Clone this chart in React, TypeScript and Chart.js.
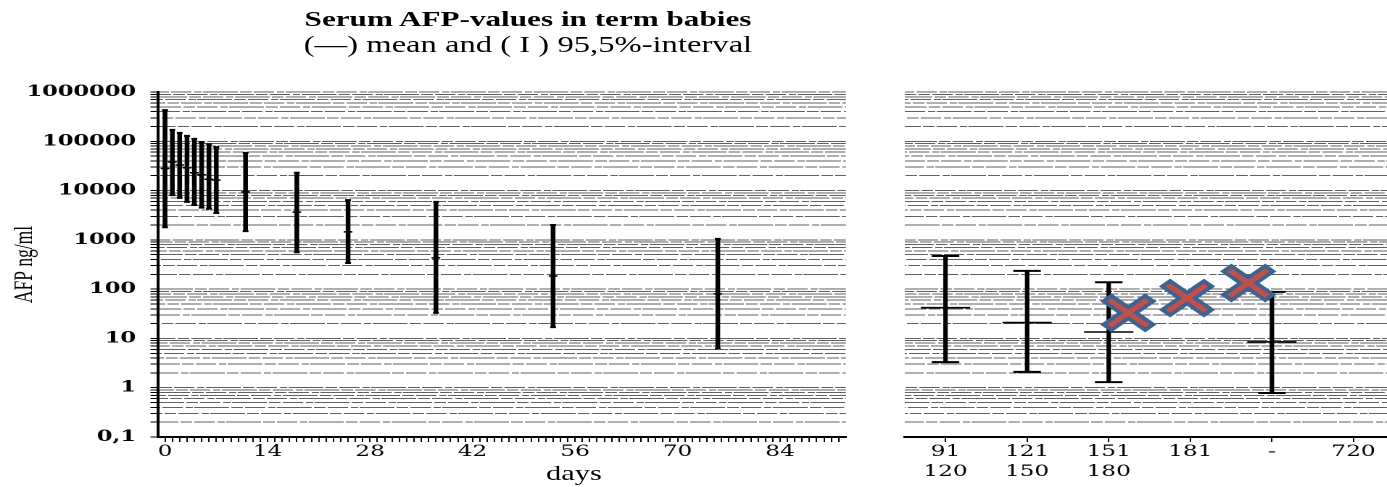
import React, { useEffect, useRef } from 'react';
import { Chart, registerables } from 'chart.js';

Chart.register(...registerables);

// The figure is laid out narrow and widened horizontally as a whole.
const STRETCH = 1.45;
const FIG_W = 1387;
const FIG_H = 487;
const INNER_W = FIG_W / STRETCH;

const LEFT_W = 607;
const RIGHT_W = 350;

// Neonatal period: day after birth, 95.5% interval and mean (ng/ml)
const neonatalDays = [0, 1, 2, 3, 4, 5, 6, 7, 11, 18, 25, 37, 53, 75.5];
const neonatalLow = [1800, 8100, 7100, 5900, 5100, 4500, 4300, 3500, 1500, 560, 340, 33, 17, 6.2];
const neonatalHigh = [430000, 170000, 148000, 129000, 112000, 96000, 87000, 76000, 58000, 23000, 6400, 5900, 2000, 1050];
const neonatalMean = [28000, 38000, 33000, 29000, 23000, 21000, 17000, 16300, 9400, 3650, 1450, 430, 185, 80];
const dayLabelDays = [0, 14, 28, 42, 56, 70, 84];

// Infancy: age groups (days), 95.5% interval and mean (ng/ml)
const infantTickLabels: (string | string[])[] = [['91', '120'], ['121', '150'], ['151', '180'], '181', '-', '720'];
const infantGroupPos = [0, 1, 2, 4];
const infantLow = [3.3, 2.1, 1.3, 0.78];
const infantHigh = [470, 235, 138, 88];
const infantMean = [42, 21, 13.5, 8.5];

// Crossed-out markers
const crossPos = [2.24, 2.96, 3.71];
const crossValue = [33, 66, 133];

// Log axis decades
const decadeValues = [0.1, 1, 10, 100, 1000, 10000, 100000, 1000000];
const decadeLabels = ['0,1', '1', '10', '100', '1000', '10000', '100000', '1000000'];

// Log-paper rulings: 1..9 in each decade
const logGridValues: number[] = [];
for (let e = -1; e <= 5; e++) {
  for (let m = 1; m <= 9; m++) logGridValues.push(+(m * Math.pow(10, e)).toPrecision(6));
}
logGridValues.push(1e6);

const dayTicks: number[] = [];
for (let d = 0; d <= 92; d++) dayTicks.push(d);

const RIGHT_X_MIN = -0.4963;
const RIGHT_X_MAX = 5.4185;

const GRID_COLOR = 'rgba(35,35,35,0.72)';
const SERIF_TICK = 'DejaVu Serif';
const SERIF_TEXT = '"Liberation Serif", "Times New Roman", serif';

const decadeLabel = (v: number) => {
  const i = decadeValues.findIndex((d) => Math.abs(d - v) / d < 1e-6);
  return i >= 0 ? decadeLabels[i] : '';
};

function logAxis(showLabels: boolean, width: number) {
  return {
    type: 'logarithmic',
    min: 0.1,
    max: 1e6,
    afterBuildTicks: (s: any) => {
      s.ticks = logGridValues.map((value) => ({ value }));
    },
    afterFit: (s: any) => {
      s.width = width;
    },
    grid: {
      display: true,
      color: GRID_COLOR,
      lineWidth: 1,
      drawTicks: showLabels,
      tickLength: 5,
      tickColor: '#000',
      tickWidth: 1,
    },
    border: {
      display: showLabels,
      color: '#000',
      width: 2,
      dash: [24, 1.5, 8, 1.5, 14, 2, 5, 1],
      dashOffset: (ctx: any) => (ctx.index * 11) % 37,
    },
    ticks: {
      display: showLabels,
      autoSkip: false,
      padding: 10,
      color: '#000',
      font: { family: SERIF_TICK, size: 15.5, weight: 'bold' },
      callback: (v: any) => decadeLabel(Number(v)),
    },
    title: showLabels
      ? {
          display: true,
          text: 'AFP ng/ml',
          color: '#000',
          font: { family: SERIF_TEXT, size: 17.5 },
          padding: { top: 7, bottom: 0 },
        }
      : { display: false },
  };
}

function lineMarks(xs: number[], ys: number[], radius: number, width: number, order: number) {
  return {
    type: 'scatter',
    data: xs.map((x, i) => ({ x, y: ys[i] })),
    showLine: false,
    pointStyle: 'line',
    pointRadius: radius,
    pointBorderWidth: width,
    pointBorderColor: '#000',
    pointBackgroundColor: '#000',
    order,
  };
}

const baseOptions = {
  responsive: false,
  maintainAspectRatio: false,
  animation: false,
  devicePixelRatio: 2,
  events: [],
  plugins: {
    legend: { display: false },
    title: { display: false },
    tooltip: { enabled: false },
  },
};

function neonatalConfig(): any {
  return {
    type: 'bar',
    data: {
      datasets: [
        {
          type: 'bar',
          data: neonatalDays.map((d, i) => ({ x: d, y: [neonatalLow[i], neonatalHigh[i]] })),
          backgroundColor: '#000',
          borderWidth: 0,
          barThickness: 2.6,
          grouped: false,
          order: 5,
        },
        lineMarks(neonatalDays, neonatalMean, 3, 1.5, 3),
        lineMarks(neonatalDays, neonatalLow, 2, 2, 4),
        lineMarks(neonatalDays, neonatalHigh, 2, 2, 4),
      ],
    },
    options: {
      ...baseOptions,
      layout: { autoPadding: false, padding: { top: 92, right: 23.6, bottom: 0, left: 0 } },
      scales: {
        x: {
          type: 'linear',
          min: -1,
          max: 93,
          offset: false,
          afterBuildTicks: (s: any) => {
            s.ticks = dayTicks.map((value) => ({ value }));
          },
          afterFit: (s: any) => {
            s.height = 50;
          },
          grid: {
            offset: false,
            drawOnChartArea: false,
            drawTicks: true,
            tickLength: 5,
            tickColor: '#000',
            tickWidth: 1,
          },
          border: { display: true, color: '#000', width: 2 },
          ticks: {
            autoSkip: false,
            maxRotation: 0,
            minRotation: 0,
            padding: 0,
            color: '#000',
            font: { family: SERIF_TICK, size: 16, lineHeight: 1.25 },
            callback: (v: any) => (dayLabelDays.includes(Number(v)) ? String(v) : ''),
          },
        },
        y: logAxis(true, 108.76),
      },
    },
  };
}

function infantConfig(): any {
  return {
    type: 'bar',
    data: {
      datasets: [
        {
          type: 'scatter',
          data: crossPos.map((x, i) => ({ x, y: crossValue[i] })),
          showLine: false,
          pointStyle: 'crossRot',
          pointRadius: 18.5,
          pointBorderWidth: 4.5,
          pointBorderColor: '#c0504d',
          pointBackgroundColor: '#c0504d',
          order: 0,
        },
        {
          type: 'scatter',
          data: crossPos.map((x, i) => ({ x, y: crossValue[i] })),
          showLine: false,
          pointStyle: 'crossRot',
          pointRadius: 22,
          pointBorderWidth: 11,
          pointBorderColor: '#3d6391',
          pointBackgroundColor: '#3d6391',
          order: 1,
        },
        {
          type: 'bar',
          data: infantGroupPos.map((p, i) => ({ x: p, y: [infantLow[i], infantHigh[i]] })),
          backgroundColor: '#000',
          borderWidth: 0,
          barThickness: 2.4,
          grouped: false,
          order: 5,
        },
        lineMarks(infantGroupPos, infantMean, 17, 1.6, 3),
        lineMarks(infantGroupPos, infantLow, 9.5, 2, 4),
        lineMarks(infantGroupPos, infantHigh, 9.5, 2, 4),
      ],
    },
    options: {
      ...baseOptions,
      layout: { autoPadding: false, padding: { top: 92, right: 0, bottom: 0, left: 17.14 } },
      scales: {
        x: {
          type: 'linear',
          min: RIGHT_X_MIN,
          max: RIGHT_X_MAX,
          offset: false,
          afterBuildTicks: (s: any) => {
            s.ticks = infantTickLabels.map((_, i) => ({ value: i }));
          },
          afterFit: (s: any) => {
            s.height = 50;
          },
          grid: {
            offset: false,
            drawOnChartArea: false,
            drawTicks: true,
            tickLength: 5,
            tickColor: '#000',
            tickWidth: 1,
          },
          border: { display: true, color: '#000', width: 2 },
          ticks: {
            autoSkip: false,
            maxRotation: 0,
            minRotation: 0,
            padding: 0,
            color: '#000',
            font: { family: SERIF_TICK, size: 16, lineHeight: 1.25 },
            callback: (v: any) => {
              const i = Math.round(Number(v));
              return Math.abs(i - Number(v)) < 1e-6 && infantTickLabels[i] !== undefined ? infantTickLabels[i] : '';
            },
          },
        },
        y: logAxis(false, 0),
      },
    },
  };
}

function ChartCanvas({ make, width, left }: { make: () => any; width: number; left: number }) {
  const ref = useRef<HTMLCanvasElement | null>(null);
  useEffect(() => {
    if (!ref.current) return;
    const chart = new Chart(ref.current, make());
    return () => chart.destroy();
  }, [make]);
  return (
    <canvas
      ref={ref}
      width={width}
      height={FIG_H}
      style={{ position: 'absolute', left, top: 0 }}
    />
  );
}

export default function App() {
  return (
    <div
      style={{
        position: 'fixed',
        left: 0,
        top: 0,
        width: FIG_W,
        height: FIG_H,
        overflow: 'hidden',
        background: '#fff',
      }}
    >
      <div
        style={{
          position: 'absolute',
          left: 0,
          top: 0,
          width: INNER_W,
          height: FIG_H,
          transform: `scaleX(${STRETCH})`,
          transformOrigin: '0 0',
        }}
      >
        <div
          style={{
            position: 'absolute',
            left: 528 / STRETCH - 250,
            width: 500,
            top: 9,
            textAlign: 'center',
            fontFamily: SERIF_TEXT,
            fontWeight: 'bold',
            fontSize: 21.5,
            lineHeight: '21.5px',
            whiteSpace: 'nowrap',
            color: '#000',
          }}
        >
          Serum AFP-values in term babies
        </div>
        <div
          style={{
            position: 'absolute',
            left: 528 / STRETCH - 250,
            width: 500,
            top: 34.2,
            textAlign: 'center',
            fontFamily: SERIF_TEXT,
            fontSize: 22.5,
            lineHeight: '22.5px',
            whiteSpace: 'nowrap',
            color: '#000',
          }}
        >
          (—) mean and ( I ) 95,5%-interval
        </div>
        <ChartCanvas make={neonatalConfig} width={LEFT_W} left={0} />
        <ChartCanvas make={infantConfig} width={RIGHT_W} left={LEFT_W} />
        <div
          style={{
            position: 'absolute',
            left: 574 / STRETCH - 50,
            width: 100,
            top: 463,
            textAlign: 'center',
            fontFamily: SERIF_TEXT,
            fontSize: 21,
            lineHeight: '21px',
            whiteSpace: 'nowrap',
            color: '#000',
          }}
        >
          days
        </div>
      </div>
    </div>
  );
}
